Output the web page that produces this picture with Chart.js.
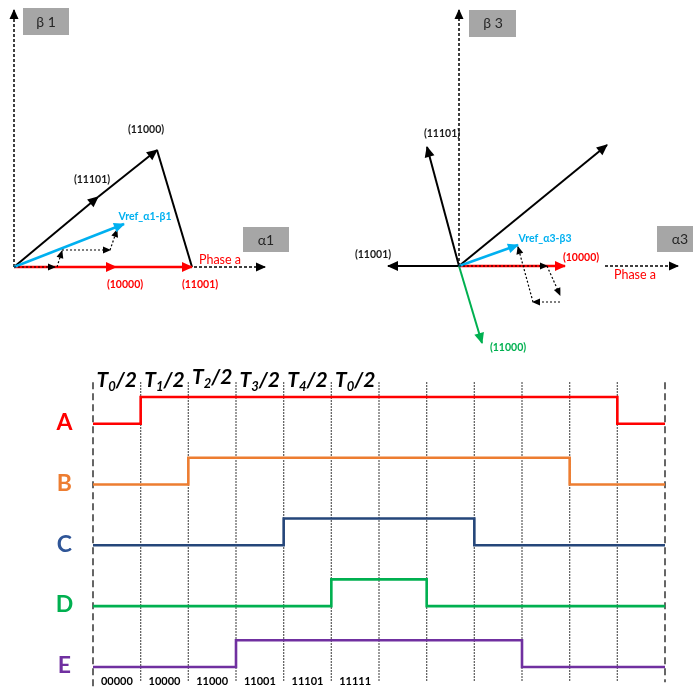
<!DOCTYPE html>
<html>
<head>
<meta charset="utf-8">
<script src="https://cdn.jsdelivr.net/npm/chart.js@4.4.0/dist/chart.umd.min.js"></script>
<style>
  html, body { margin: 0; padding: 0; background: #fff; }
  #wrap { position: relative; width: 693px; height: 687px; overflow: hidden; }
  .pane { position: absolute; }
</style>
</head>
<body>
<div id="wrap">
  <div class="pane" style="left:0;top:0;width:330px;height:300px"><canvas id="plane1"></canvas></div>
  <div class="pane" style="left:330px;top:0;width:363px;height:360px"><canvas id="plane3"></canvas></div>
  <div class="pane" style="left:0;top:355px;width:693px;height:332px"><canvas id="timing"></canvas></div>
</div>
<script>
// ---- alpha1-beta1 plane (origin at 0,0) ----
const alpha1Axis = [[0, 0], [251, 0]];
const beta1Axis = [[0, 0], [0, 257]];
const v1_10000 = [[0, 0], [102, 0]];
const v1_11001 = [[102, 0], [178, 0]];
const v1_11101 = [[0, 0], [84, 70]];
const v1_11000 = [[84, 70], [143, 117]];
const v1_edge = [[143, 117], [178, 0]];
const vref1 = [[0, 0], [110, 43]];
const steps1 = [[[0, 0], [41, 0]], [[43, 0], [48, 16]], [[48, 17], [96, 17]], [[96, 17], [103, 37]]];

// ---- alpha3-beta3 plane ----
const alpha3Axis = [[146, 0], [219, 0]];
const beta3Axis = [[0, 0], [0, 256]];
const v3_10000 = [[0, 0], [106, 0]];
const v3_11101 = [[0, 0], [-32, 119]];
const v3_long = [[0, 0], [148, 121]];
const v3_11001 = [[0, 0], [-71, 0]];
const v3_11000 = [[0, 0], [23, -77]];
const vref3 = [[0, 0], [59, 21]];
const steps3 = [[[0, 0], [88, 0]], [[88, 0], [101, -29]], [[101, -36], [74, -36]], [[74, -36], [59, 19]]];

// ---- switching pattern ----
const slotEdges = [0, 1, 2, 3, 4, 5, 6, 7, 8, 9, 10, 11, 12];
const phaseNames = ['A', 'B', 'C', 'D', 'E'];
const sigA = [0, 1, 1, 1, 1, 1, 1, 1, 1, 1, 1, 0];
const sigB = [0, 0, 1, 1, 1, 1, 1, 1, 1, 1, 0, 0];
const sigC = [0, 0, 0, 0, 1, 1, 1, 1, 0, 0, 0, 0];
const sigD = [0, 0, 0, 0, 0, 1, 1, 0, 0, 0, 0, 0];
const sigE = [0, 0, 0, 1, 1, 1, 1, 1, 1, 0, 0, 0];
const topSubs = ['0', '1', '2', '3', '4', '0'];
const stateLabels = ['00000', '10000', '11000', '11001', '11101', '11111'];

const FONT = 'Lato, "Open Sans", sans-serif';
const RED = '#FF0000', BLUE = '#00B0F0', GREEN = '#00B050', BLACK = '#000000';

function seg(pts, color, width, dash, arrow, size) {
    return {
        data: pts.map(p => ({ x: p[0], y: p[1] })),
        showLine: true,
        borderColor: color,
        backgroundColor: color,
        borderWidth: width,
        borderDash: dash || [],
        pointRadius: 0,
        pointHoverRadius: 0,
        arrow: arrow,
        arrowSize: size || 9,
        clip: false
    };
}

function drawArrows(chart) {
    const ctx = chart.ctx;
    chart.data.datasets.forEach((ds, i) => {
        if (!ds.arrow) return;
        const pts = chart.getDatasetMeta(i).data;
        const a = pts[pts.length - 2], b = pts[pts.length - 1];
        const ang = Math.atan2(b.y - a.y, b.x - a.x);
        const L = ds.arrowSize, W = L * 0.5;
        ctx.save();
        ctx.fillStyle = ds.borderColor;
        ctx.translate(b.x, b.y);
        ctx.rotate(ang);
        ctx.beginPath();
        ctx.moveTo(1, 0);
        ctx.lineTo(-L, -W);
        ctx.lineTo(-L, W);
        ctx.closePath();
        ctx.fill();
        ctx.restore();
    });
}

// boxes: [x0, y0, x1, y1, text, tx, ty]; texts: [text, x, y, color, font]
function planeDecor(boxes, texts) {
    return {
        id: 'planeDecor',
        beforeDatasetsDraw(chart) {
            const ctx = chart.ctx, xs = chart.scales.x, ys = chart.scales.y;
            ctx.save();
            boxes.forEach(b => {
                const x0 = xs.getPixelForValue(b[0]), y0 = ys.getPixelForValue(b[1]);
                const x1 = xs.getPixelForValue(b[2]), y1 = ys.getPixelForValue(b[3]);
                ctx.fillStyle = '#A6A6A6';
                ctx.fillRect(x0, y0, x1 - x0, y1 - y0);
                ctx.fillStyle = '#262626';
                ctx.font = '14px ' + FONT;
                ctx.textAlign = 'center';
                ctx.textBaseline = 'middle';
                ctx.fillText(b[4], xs.getPixelForValue(b[5]), ys.getPixelForValue(b[6]));
            });
            ctx.restore();
        },
        afterDatasetsDraw(chart) {
            drawArrows(chart);
            const ctx = chart.ctx, xs = chart.scales.x, ys = chart.scales.y;
            ctx.save();
            ctx.textAlign = 'center';
            ctx.textBaseline = 'middle';
            texts.forEach(t => {
                ctx.fillStyle = t[3];
                ctx.font = t[4];
                ctx.fillText(t[0], xs.getPixelForValue(t[1]), ys.getPixelForValue(t[2]));
            });
            ctx.restore();
        }
    };
}

function planeOptions(xmin, xmax, ymin, ymax) {
    return {
        responsive: true,
        maintainAspectRatio: false,
        animation: false,
        events: [],
        layout: { padding: 0 },
        plugins: { legend: { display: false }, tooltip: { enabled: false } },
        scales: {
            x: { type: 'linear', min: xmin, max: xmax, display: false },
            y: { type: 'linear', min: ymin, max: ymax, display: false }
        }
    };
}

const LBL = 'bold 10.5px ' + FONT;
const PH = '12.5px ' + FONT;

// first dataset is drawn on top
new Chart(document.getElementById('plane1'), {
    type: 'scatter',
    data: {
        datasets: [
            ...steps1.map(s => seg(s, BLACK, 1.2, [2, 2], true, 7)),
            seg(vref1, BLUE, 2.5, [], true, 10),
            seg(v1_10000, RED, 2.5, [], true, 10),
            seg(v1_11001, RED, 2.5, [], true, 10),
            seg(v1_11101, BLACK, 2, [], true, 10),
            seg(v1_11000, BLACK, 2, [], true, 10),
            seg(v1_edge, BLACK, 2, [], false),
            seg(alpha1Axis, BLACK, 1.5, [3, 2], true, 9),
            seg(beta1Axis, BLACK, 1.5, [3, 2], true, 9)
        ]
    },
    options: planeOptions(-14, 316, -33, 267),
    plugins: [planeDecor(
        [[9, 259, 55, 232, 'β 1', 32, 245], [229, 40, 275, 15, 'α1', 252, 27]],
        [
            ['(11000)', 132, 137, '#1a1a1a', LBL],
            ['(11101)', 78, 87, '#1a1a1a', LBL],
            ['Vref_α1-β1', 131, 50, BLUE, LBL],
            ['Phase a', 206, 7, RED, PH],
            ['(10000)', 111, -18, RED, LBL],
            ['(11001)', 186, -18, RED, LBL]
        ]
    )]
});

new Chart(document.getElementById('plane3'), {
    type: 'scatter',
    data: {
        datasets: [
            ...steps3.map(s => seg(s, BLACK, 1.2, [2, 2], true, 7)),
            seg(vref3, BLUE, 2.5, [], true, 10),
            seg(v3_10000, RED, 2.5, [], true, 10),
            seg(v3_11000, GREEN, 2, [], true, 10),
            seg(v3_11101, BLACK, 2, [], true, 10),
            seg(v3_long, BLACK, 2, [], true, 10),
            seg(v3_11001, BLACK, 2, [], true, 10),
            seg(alpha3Axis, BLACK, 1.5, [3, 2], true, 9),
            seg(beta3Axis, BLACK, 1.5, [3, 2], true, 9)
        ]
    },
    options: planeOptions(-129, 234, -94, 266),
    plugins: [planeDecor(
        [[10, 256, 57, 229, 'β 3', 34, 243], [198, 40, 236, 14, 'α3', 221, 27]],
        [
            ['(11101)', -17, 132, '#1a1a1a', LBL],
            ['(11001)', -86, 11, '#1a1a1a', LBL],
            ['(11000)', 49, -82, GREEN, LBL],
            ['Vref_α3-β3', 86, 27, BLUE, LBL],
            ['(10000)', 122, 8, RED, LBL],
            ['Phase a', 176, -9, RED, PH]
        ]
    )]
});

// ---- timing diagram ----
const signals = [sigA, sigB, sigC, sigD, sigE];
const sigColors = ['#FF0000', '#ED7D31', '#25467A', '#00B050', '#7030A0'];
const letterColors = ['#FF0000', '#ED7D31', '#2F5597', '#00B050', '#7030A0'];
const rows = [4, 3, 2, 1, 0];
const AMP = 0.44;

const gridSets = slotEdges.map((e, i) => {
    const edge = i === 0 || i === slotEdges.length - 1;
    return {
        data: [{ x: e, y: 4.68 }, { x: e, y: i === 0 ? -0.33 : -0.25 }],
        showLine: true,
        borderColor: edge ? '#000' : '#333',
        borderWidth: edge ? 1.2 : 1.3,
        borderDash: edge ? [7, 4] : [1.5, 1.5],
        pointRadius: 0,
        clip: false
    };
});

const signalSets = signals.map((bits, k) => {
    const pts = bits.map((b, i) => ({ x: slotEdges[i], y: rows[k] + b * AMP }));
    pts.push({ x: slotEdges[bits.length], y: rows[k] + bits[bits.length - 1] * AMP });
    return {
        label: phaseNames[k],
        data: pts,
        showLine: true,
        stepped: 'before',
        borderColor: sigColors[k],
        borderWidth: 2.6,
        pointRadius: 0,
        clip: false
    };
});

const timingDecor = {
    id: 'timingDecor',
    afterDatasetsDraw(chart) {
        const ctx = chart.ctx, xs = chart.scales.x, ys = chart.scales.y;
        ctx.save();
        // phase letters
        ctx.textAlign = 'center';
        ctx.textBaseline = 'middle';
        ctx.font = 'bold 23px ' + FONT;
        phaseNames.forEach((n, k) => {
            ctx.fillStyle = letterColors[k];
            ctx.fillText(n, xs.getPixelForValue(-0.6), ys.getPixelForValue(rows[k] + 0.02));
        });
        // state codes under the first half
        ctx.fillStyle = '#000';
        ctx.font = 'bold 11px ' + FONT;
        stateLabels.forEach((s, i) => {
            ctx.fillText(s, xs.getPixelForValue(i + 0.5), ys.getPixelForValue(-0.24));
        });
        // T_k/2 headers
        ctx.textBaseline = 'alphabetic';
        ctx.textAlign = 'left';
        const big = 'italic bold 21px ' + FONT, small = 'italic bold 13px ' + FONT;
        topSubs.forEach((sub, i) => {
            ctx.font = big;
            const wT = ctx.measureText('T').width, w2 = ctx.measureText('/2').width;
            ctx.font = small;
            const wS = ctx.measureText(sub).width;
            let x = xs.getPixelForValue(i + 0.5) - (wT + wS + w2) / 2;
            const y = ys.getPixelForValue(i === 2 ? 4.65 : 4.6);
            ctx.font = big;
            ctx.fillText('T', x, y);
            x += wT;
            ctx.font = small;
            ctx.fillText(sub, x, y + 4);
            x += wS;
            ctx.font = big;
            ctx.fillText('/2', x, y);
        });
        ctx.restore();
    }
};

new Chart(document.getElementById('timing'), {
    type: 'scatter',
    data: { datasets: [...signalSets, ...gridSets] },
    options: {
        responsive: true,
        maintainAspectRatio: false,
        animation: false,
        events: [],
        layout: { padding: { left: 93, right: 28, top: 0, bottom: 0 } },
        plugins: { legend: { display: false }, tooltip: { enabled: false } },
        scales: {
            x: { type: 'linear', min: 0, max: 12, display: false },
            y: { type: 'linear', min: -0.33, max: 5.13, display: false }
        }
    },
    plugins: [timingDecor]
});
</script>
</body>
</html>
